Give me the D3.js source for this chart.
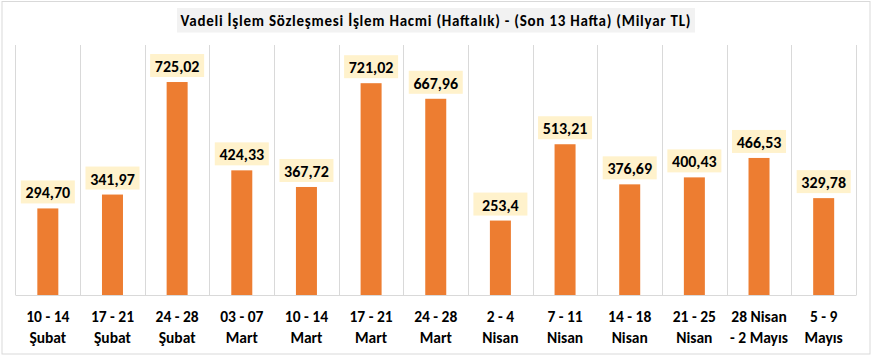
<!DOCTYPE html>
<html><head><meta charset="utf-8">
<script src="https://cdn.jsdelivr.net/npm/d3@7/dist/d3.min.js"></script>
<style>body{margin:0;background:#fff;} svg{display:block;font-family:Carlito,Calibri,Lato,sans-serif;}</style>
</head><body>
<svg id="c" width="874" height="360"></svg>
<script>
const categoriesLine1 = ["10 - 14","17 - 21","24 - 28","03 - 07","10 - 14","17 - 21","24 - 28","2 - 4","7 - 11","14 - 18","21 - 25","28 Nisan","5 - 9"];
const categoriesLine2 = ["Şubat","Şubat","Şubat","Mart","Mart","Mart","Mart","Nisan","Nisan","Nisan","Nisan","- 2 Mayıs","Mayıs"];
const values = [294.70,341.97,725.02,424.33,367.72,721.02,667.96,253.4,513.21,376.69,400.43,466.53,329.78];
const valueLabels = ["294,70","341,97","725,02","424,33","367,72","721,02","667,96","253,4","513,21","376,69","400,43","466,53","329,78"];
const title = "Vadeli İşlem Sözleşmesi İşlem Hacmi (Haftalık) - (Son 13 Hafta) (Milyar TL)";

const svg = d3.select("#c");
svg.append("rect").attr("x",2).attr("y",1.5).attr("width",868).attr("height",352.5)
  .attr("fill","#fff").attr("stroke","#D9D9D9").attr("stroke-width",1);

const pL=15.5,pR=856,pT=45,pB=295;
const idx=d3.range(values.length);
const x=d3.scaleBand().domain(idx).range([pL,pR]).paddingInner(0).paddingOuter(0);
const y=d3.scaleLinear().domain([0,800]).range([pB,60]);

const g=svg.append("g");
for(let i=0;i<=values.length;i++){
  const xx = i<values.length ? x(i) : pR;
  g.append("line").attr("x1",Math.round(xx)+0.5).attr("x2",Math.round(xx)+0.5).attr("y1",pT).attr("y2",pB)
   .attr("stroke","#D9D9D9").attr("stroke-width",1);
}
g.append("line").attr("x1",pL).attr("x2",pR+0.5).attr("y1",pB+0.5).attr("y2",pB+0.5).attr("stroke","#D9D9D9");

const bw=21;
svg.append("g").selectAll("rect").data(idx).join("rect")
  .attr("x",i=>x(i)+x.bandwidth()/2-bw/2).attr("width",bw)
  .attr("y",i=>y(values[i])).attr("height",i=>pB-y(values[i]))
  .attr("fill","#ED7D31");

const lg=svg.append("g");
idx.forEach(i=>{
  const cx=x(i)+x.bandwidth()/2;
  const by=y(values[i])-5;
  lg.append("rect").attr("x",cx-27).attr("width",54).attr("y",by-23).attr("height",23).attr("fill","#FFF2CC");
  lg.append("text").attr("x",cx).attr("y",by-5).attr("text-anchor","middle")
    .attr("font-size",16).attr("font-weight","bold").attr("fill","#000").text(valueLabels[i]);
});

const xg=svg.append("g");
idx.forEach(i=>{
  const cx=x(i)+x.bandwidth()/2;
  xg.append("text").attr("x",cx).attr("y",322).attr("text-anchor","middle").attr("font-size",15.5).attr("font-weight","bold").attr("fill","#000").text(categoriesLine1[i]);
  xg.append("text").attr("x",cx).attr("y",343).attr("text-anchor","middle").attr("font-size",15.5).attr("font-weight","bold").attr("fill","#000").text(categoriesLine2[i]);
});

svg.append("rect").attr("x",177).attr("y",8).attr("width",518).attr("height",24.5).attr("fill","#F2F2F2");
svg.append("text").attr("x",435.5).attr("y",25.5).attr("text-anchor","middle").attr("font-size",15).attr("font-weight","bold").attr("fill","#000")
  .attr("textLength",510).attr("lengthAdjust","spacing").text(title);
</script>
</body></html>
